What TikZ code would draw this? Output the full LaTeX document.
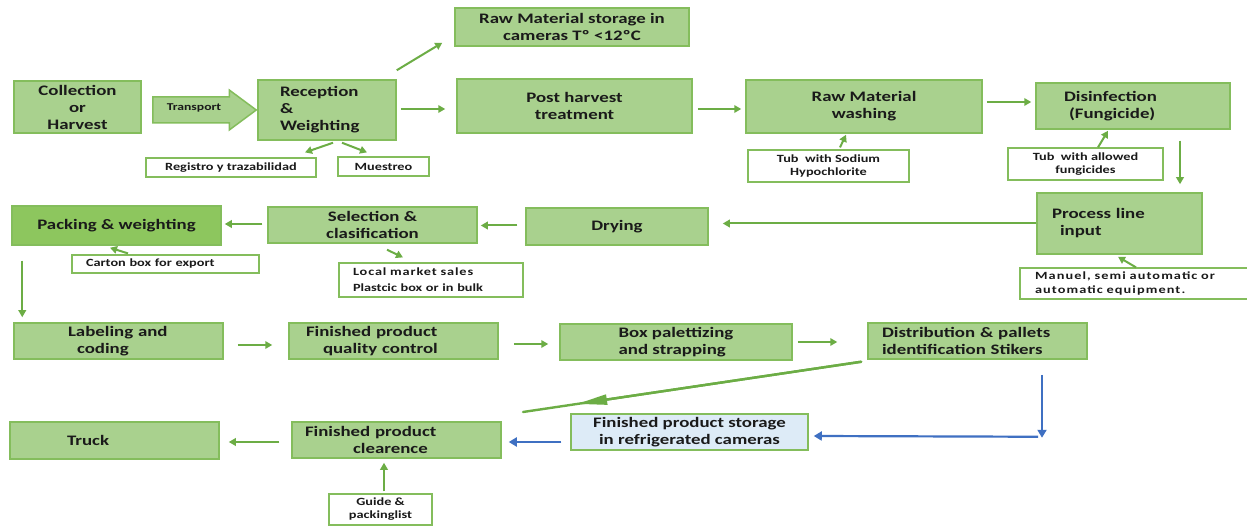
\documentclass[tikz,border=0pt]{standalone}
\usepackage{fontspec}
\setmainfont{Carlito}[FakeStretch=1.3]
\usetikzlibrary{arrows.meta}
\definecolor{gfill}{HTML}{A9D18E}
\definecolor{gdraw}{HTML}{84BD5C}
\definecolor{pfill}{HTML}{8DC65E}
\definecolor{garr}{HTML}{6CAD45}
\definecolor{bfill}{HTML}{DDEBF7}
\definecolor{bline}{HTML}{3F70C2}
\definecolor{txt}{HTML}{1A1A1A}
\tikzset{
  box/.style={draw=gdraw, line width=1.5pt, fill=gfill, text=txt,
    font=\bfseries\fontsize{14.5}{17}\selectfont, inner sep=0pt, align=center},
  sbox/.style={draw=gdraw, line width=1.2pt, fill=white, text=txt,
    font=\bfseries\fontsize{11}{13}\selectfont, inner sep=0pt, align=center},
  wh/.style 2 args={minimum width=#1pt, minimum height=#2pt},
  lt/.style 2 args={align=left, text width=#1pt, inner xsep=#2pt},
  arr/.style={draw=garr, line width=2pt, -{Triangle[length=7pt,width=7.5pt]}},
  barrow/.style={draw=bline, line width=2.2pt, -{Triangle[length=8pt,width=9pt]}},
}
\begin{document}
\begin{tikzpicture}[x=1pt,y=-1pt]
\fill[white] (0,0) rectangle (1247,526);
\useasboundingbox (0,0) rectangle (1247,526);

% main boxes
\node[box, wh={127}{52}] (col) at (77.5,107) {Collection\\or\\Harvest};
\node[box, wh={138}{60}, lt={94}{22}] (rec) at (327,110) {Reception\\\&\\Weighting};
\node[box, wh={234}{38}] (rms) at (572,27) {Raw Material storage in\\cameras Tº <12ºC};
\node[box, wh={235}{54}] (pht) at (574.5,106) {Post harvest\\treatment};
\node[box, wh={236}{53}] (rmw) at (864,106.5) {Raw Material\\washing};
\node[box, wh={194}{46}, lt={138}{28}] (dis) at (1133,106) {Disinfection\\\hspace*{5pt}(Fungicide)};
\node[box, wh={165}{61}, lt={135}{15}] (pli) at (1119.5,223.5) {Process line\\\hspace*{8pt}input};
\node[box, wh={182}{37}] (dry) at (617,226.5) {Drying};
\node[box, wh={209}{36}] (sel) at (372.5,225) {Selection \&\\clasification};
\node[box, fill=pfill, wh={209}{39}] (pak) at (116.5,225.5) {Packing \& weighting};
\node[box, wh={209}{36}, lt={109}{50}] (lab) at (118.5,341) {\hspace*{4pt}Labeling and\\\hspace*{13pt}coding};
\node[box, wh={209}{36}, lt={175}{17}] (fqc) at (393.5,341) {Finished product\\\hspace*{17pt}quality control};
\node[box, wh={232}{36}, align=left] (bpal) at (676,342) {Box palettizing\\and strapping};
\node[box, wh={219}{36}, lt={191}{14}] (dist) at (977.5,341) {Distribution \& pallets\\identification Stikers};
\node[box, fill=bfill, wh={237}{36}] (stor) at (689.5,432) {Finished product storage\\in refrigerated cameras};
\node[box, wh={209}{36}, lt={183}{13}] (clr) at (396.5,440) {Finished product\\\hspace*{48pt}clearence};
\node[box, wh={209}{37}, lt={95}{57}] (trk) at (114.5,440.5) {Truck};

% small white boxes
\node[sbox, wh={170}{19}] (reg) at (231,167.5) {Registro y trazabilidad};
\node[sbox, wh={91}{19}] (mue) at (383.5,166.5) {Muestreo};
\node[sbox, wh={161}{32}] (tub1) at (828.5,166) {Tub\ \ with Sodium\\Hypochlorite};
\node[sbox, wh={155}{32}] (tub2) at (1085.5,164) {Tub\ \ with allowed\\fungicides};
\node[sbox, wh={232}{31}, lt={202}{15}, font=\bfseries\fontsize{11}{14}\selectfont\addfontfeatures{LetterSpace=10}] (man) at (1136,283.5) {Manuel, semi automatic or\\automatic equipment.};
\node[sbox, wh={187}{18}, lt={159}{14}] (crt) at (165.5,264) {Carton box for export};
\node[sbox, wh={184}{34}, lt={156}{14}, font=\bfseries\fontsize{11}{16}\selectfont] (loc) at (431,280) {{\addfontfeatures{LetterSpace=8}Local market sales}\\Plastcic box or in bulk};
\node[sbox, wh={103}{31}] (gui) at (380.5,509.5) {Guide \&\\packinglist};

% transport block arrow
\coordinate (ta) at ([xshift=11pt]col.east |- rec.west);
\filldraw[draw=gdraw, fill=gfill, line width=1.5pt, line join=miter]
  ([yshift=13pt]ta) -- ([xshift=-28pt,yshift=13pt]rec.west)
  -- ([xshift=-28pt,yshift=20pt]rec.west) -- ([xshift=-1pt]rec.west)
  -- ([xshift=-28pt,yshift=-20pt]rec.west) -- ([xshift=-28pt,yshift=-13pt]rec.west)
  -- ([yshift=-13pt]ta) -- cycle;
\node[text=txt, font=\bfseries\fontsize{10.5}{12}\selectfont] (trl) at (194,108) {Transport};

% green arrows
\draw[arr] ([yshift=9pt]rec.north east) -- ([xshift=-12pt,yshift=4pt]rms.south west);
\draw[arr] ([xshift=4pt,yshift=1pt]rec.east) -- ([xshift=-11pt,yshift=1pt]rec.east -| pht.west);
\draw[arr] ([xshift=5pt,yshift=-3pt]pht.east) -- ([xshift=-4pt,yshift=-3pt]pht.east -| rmw.west);
\draw[arr] ([xshift=4pt,yshift=4.5pt]rmw.east) -- ([xshift=-4pt,yshift=4.5pt]rmw.east -| dis.west);
\draw[arr] ([xshift=47pt,yshift=-11pt]dis.south) -- ([xshift=47pt,yshift=8pt]dis.south |- pli.north);
\draw[arr] ([xshift=11.5pt,yshift=2pt]tub1.north) -- ([xshift=-18pt,yshift=-1pt]rmw.south);
\draw[arr] ([xshift=12.5pt]tub2.north) -- ([xshift=-25pt,yshift=-1pt]dis.south);
\draw[arr] (man.north) -- ([xshift=-1.5pt,yshift=-2pt]pli.south);
\draw[arr] (pli.west) -- ([xshift=14pt]dry.east |- pli.west);
\draw[arr] ([xshift=-8pt,yshift=1pt]dry.west) -- ([xshift=3pt,yshift=1pt]dry.west -| sel.east);
\draw[arr] ([xshift=-5pt,yshift=1pt]sel.west) -- ([xshift=3pt,yshift=1pt]sel.west -| pak.east);
\draw[arr] ([xshift=-37.5pt,yshift=1pt]crt.north) -- ([xshift=-6.5pt,yshift=-2pt]pak.south);
\draw[arr] ([xshift=14.5pt,yshift=-6pt]sel.south) -- ([xshift=-28pt,yshift=5pt]loc.north);
\draw[arr] ([xshift=6pt,yshift=-2pt]rec.south) -- ([xshift=74pt,yshift=5pt]reg.north);
\draw[arr] ([xshift=15pt,yshift=-2pt]rec.south) -- ([xshift=-16.5pt,yshift=4pt]mue.north);
\draw[arr] ([xshift=11pt,yshift=-15pt]pak.south west) -- ([xshift=11pt,yshift=5pt]pak.south west |- lab.north);
\draw[arr] ([xshift=14pt,yshift=-4pt]lab.east) -- ([xshift=-16pt,yshift=-4pt]lab.east -| fqc.west);
\draw[arr] ([xshift=15pt,yshift=-3pt]fqc.east) -- ([xshift=-11pt,yshift=-3pt]fqc.east -| bpal.west);
\draw[arr] ([xshift=5pt]bpal.east) -- ([xshift=-30pt]bpal.east -| dist.west);
\draw[arr] ([xshift=-12pt,yshift=-2pt]clr.west) -- ([xshift=9pt,yshift=-2pt]clr.west -| trk.east);
\draw[arr] ([xshift=3.5pt,yshift=2pt]gui.north) -- ([xshift=3.5pt,yshift=-4pt]gui.north |- clr.south);

% long diagonal green arrow (head part-way along)
\coordinate (gend) at (523,412);
\coordinate (gstart) at ([xshift=-6pt,yshift=-2pt]dist.south west);
\path (gstart) -- coordinate[pos=0.84] (gmid) (gend);
\draw[draw=garr, line width=2.4pt, line cap=round] (gstart) -- (gend);
\draw[draw=garr, line width=2.4pt, -{Triangle[length=30pt,width=10pt,fill=garr]}] (gstart) -- (gmid);

% blue arrows
\draw[barrow] ([xshift=64.5pt,yshift=-15pt]dist.south) -- ([xshift=64.5pt,yshift=13pt]dist.south |- stor.south);
\draw[barrow] ([xshift=60.5pt,yshift=14pt]dist.south |- stor.south) -- ([xshift=5pt,yshift=-4pt]stor.east);
\draw[barrow] ([xshift=-9pt,yshift=-10pt]stor.west) -- ([xshift=7pt,yshift=-10pt]stor.west -| clr.east);
\end{tikzpicture}
\end{document}
